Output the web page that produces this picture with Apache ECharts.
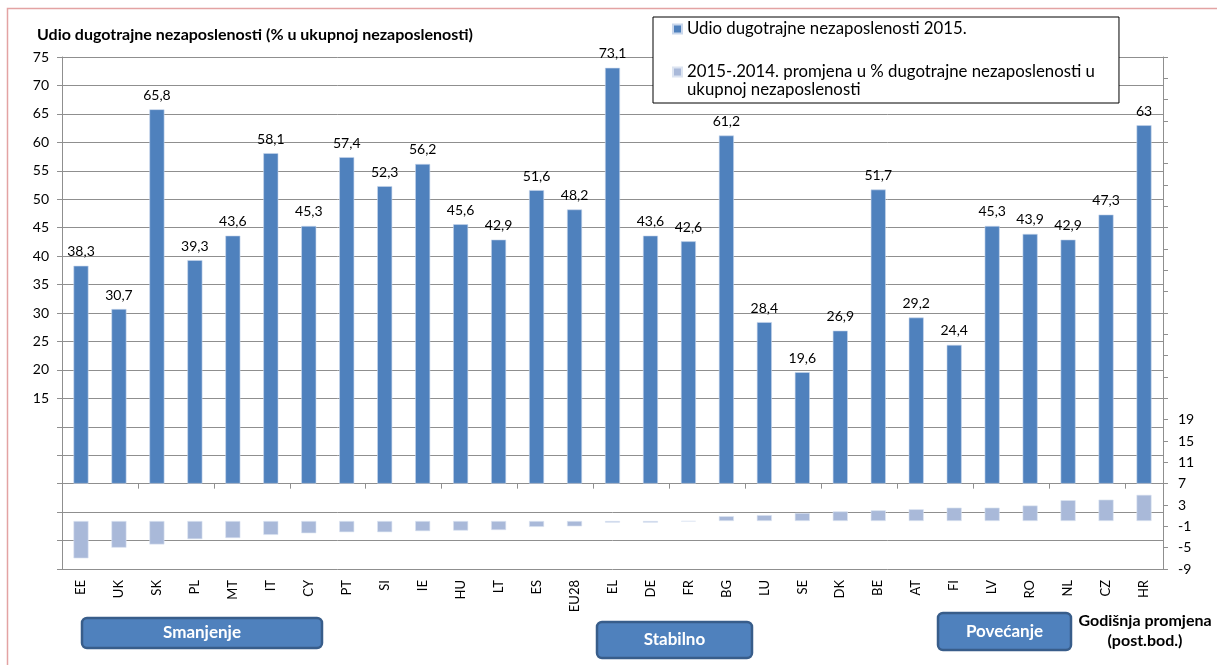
<!DOCTYPE html>
<html>
<head>
<meta charset="utf-8">
<script src="https://cdn.jsdelivr.net/npm/echarts@6/dist/echarts.min.js"></script>
<style>
  html, body { margin: 0; padding: 0; background: #fff; }
  #chart { width: 1217px; height: 665px; }
</style>
</head>
<body>
<div id="chart"></div>
<script>
// zemlje
const countries = ['EE', 'UK', 'SK', 'PL', 'MT', 'IT', 'CY', 'PT', 'SI', 'IE', 'HU', 'LT', 'ES', 'EU28', 'EL',
  'DE', 'FR', 'BG', 'LU', 'SE', 'DK', 'BE', 'AT', 'FI', 'LV', 'RO', 'NL', 'CZ', 'HR']

// udio dugotrajne nezaposlenosti 2015.
const share2015 = [38.3, 30.7, 65.8, 39.3, 43.6, 58.1, 45.3, 57.4, 52.3, 56.2, 45.6, 42.9, 51.6, 48.2, 73.1,
  43.6, 42.6, 61.2, 28.4, 19.6, 26.9, 51.7, 29.2, 24.4, 45.3, 43.9, 42.9, 47.3, 63]

// promjena 2015-2014 (post. bod.)
const change = [-7.0, -5.0, -4.4, -3.4, -3.2, -2.6, -2.3, -2.1, -2.1, -1.9, -1.8, -1.7, -1.1, -1.0, -0.3,
  -0.3, -0.1, 0.9, 1.1, 1.5, 1.8, 2.0, 2.2, 2.5, 2.5, 2.9, 3.9, 4.0, 4.9]

const seriesNames = ['Udio dugotrajne nezaposlenosti 2015.',
  '2015-.2014. promjena u % dugotrajne nezaposlenosti u ukupnoj nezaposlenosti']

const font = 'Lato, "Noto Sans", sans-serif'
const gridColor = '#8f8f8f'

const chart = echarts.init(document.getElementById('chart'))

// gumbi ispod grafa
const button = (x, y, w, h, text) => ({
  type: 'rect',
  shape: { x: x, y: y, width: w, height: h, r: 5 },
  style: { fill: '#4F81BD', stroke: '#385D8A', lineWidth: 2.5 },
  textContent: {
    style: { text: text, fill: '#fff', font: 'bold 17px ' + font }
  },
  textConfig: { position: 'inside' }
})

chart.setOption({
  animation: false,
  textStyle: { fontFamily: font },
  title: {
    text: 'Udio dugotrajne nezaposlenosti (% u ukupnoj nezaposlenosti)',
    left: 32, top: 22,
    textStyle: { fontSize: 16, fontWeight: 'bold', color: '#000' }
  },
  legend: {
    orient: 'vertical',
    left: 653, top: 17,
    padding: [3, 24, 4, 19],
    itemGap: 7,
    itemWidth: 9, itemHeight: 9,
    borderColor: '#000', borderWidth: 1,
    backgroundColor: '#fff',
    icon: 'rect',
    textStyle: { fontSize: 16.8, color: '#000', lineHeight: 18 },
    // drugi unos: prazni red iznad da ikona stoji uz prvi red teksta
    formatter: name => name === seriesNames[1]
      ? '\n2015-.2014. promjena u % dugotrajne nezaposlenosti u\nukupnoj nezaposlenosti'
      : name,
    data: seriesNames
  },
  grid: { left: 62, right: 54, top: 57, bottom: 96 },
  xAxis: [
    {
      type: 'category',
      data: countries,
      position: 'bottom',
      axisLine: { show: false, onZero: false },
      axisTick: { show: false },
      axisLabel: { rotate: 90, fontSize: 13, color: '#000', margin: 11, interval: 0 }
    },
    {
      type: 'category',
      data: countries,
      position: 'bottom',
      axisLine: { onZero: true, onZeroAxisIndex: 0, lineStyle: { color: gridColor, width: 1 } },
      axisTick: { show: true, length: 5, lineStyle: { color: gridColor } },
      axisLabel: { show: false }
    }
  ],
  yAxis: [
    {
      type: 'value',
      min: -15, max: 75, interval: 5,
      axisLine: { show: true, lineStyle: { color: gridColor } },
      axisTick: { show: true, length: 5, lineStyle: { color: gridColor } },
      axisLabel: {
        fontSize: 14, color: '#000', margin: 13,
        formatter: v => (v >= 15 ? String(v) : '')
      },
      splitLine: { lineStyle: { color: gridColor, width: 1 } }
    },
    {
      type: 'value',
      min: -9, max: 87, interval: 4,
      position: 'right',
      axisLine: { show: true, lineStyle: { color: gridColor } },
      axisTick: { show: true, length: 5, lineStyle: { color: gridColor } },
      axisLabel: {
        fontSize: 14, color: '#000', margin: 15,
        formatter: v => (v <= 19 ? String(v) : '')
      },
      splitLine: { show: false }
    }
  ],
  series: [
    {
      name: seriesNames[0],
      type: 'bar',
      xAxisIndex: 0, yAxisIndex: 0,
      barWidth: 15,
      barGap: '-100%',
      itemStyle: { color: '#4F81BD', borderColor: '#c9d7ec', borderWidth: 0.6 },
      label: {
        show: true, position: 'top', distance: 7,
        fontSize: 14, color: '#000',
        formatter: p => String(p.value).replace('.', ',')
      },
      data: share2015,
      z: 3
    },
    {
      name: seriesNames[1],
      type: 'bar',
      xAxisIndex: 0, yAxisIndex: 1,
      barWidth: 15,
      barGap: '-100%',
      itemStyle: { color: '#A9B9D9', borderColor: '#dce4f1', borderWidth: 0.6 },
      data: change,
      z: 2
    }
  ],
  graphic: [
    {
      type: 'rect', silent: true, z: -10,
      shape: { x: 7.5, y: 8.5, width: 1300, height: 800 },
      style: { fill: 'none', stroke: '#e3a3a3', lineWidth: 1.5 }
    },
    button(82, 618, 240, 30, 'Smanjenje'),
    button(597, 622, 155, 36, 'Stabilno'),
    button(938, 613, 133, 37, 'Povećanje'),
    {
      type: 'text',
      x: 1145, y: 611,
      style: {
        text: 'Godišnja promjena\n(post.bod.)',
        font: 'bold 16px ' + font,
        fill: '#000',
        align: 'center',
        lineHeight: 20
      }
    }
  ]
})
</script>
</body>
</html>
